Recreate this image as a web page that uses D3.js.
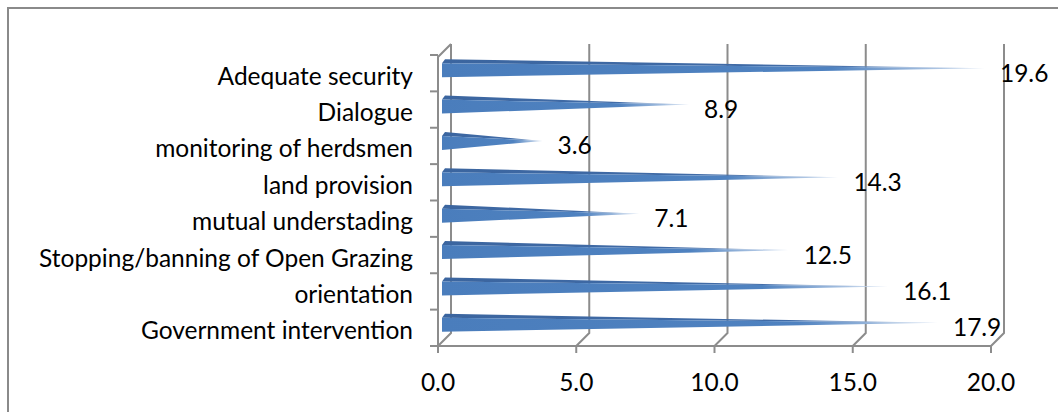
<!DOCTYPE html>
<html><head><meta charset="utf-8">
<script src="https://cdn.jsdelivr.net/npm/d3@7"></script>
<style>html,body{margin:0;padding:0;background:#fff;overflow:hidden}</style>
</head><body>
<svg id="c" width="1058" height="412"></svg>
<script>
const categories = ["Adequate security","Dialogue","monitoring of herdsmen","land provision","mutual understading","Stopping/banning of Open Grazing","orientation","Government intervention"];
const values = [19.6, 8.9, 3.6, 14.3, 7.1, 12.5, 16.1, 17.9];
const xTicks = [0, 5, 10, 15, 20];

const svg = d3.select("#c");
const FONT = "Lato, 'Open Sans', sans-serif";
const FS = 24.5;
const depth = 13;          // 3D depth offset of back wall
const dFront = 3, dBack = 7, halfH = 7;

const x = d3.scaleLinear().domain([0, 20]).range([438, 991]);
const y = d3.scaleBand().domain(categories).range([55, 346]).paddingInner(0);

// outer border
svg.append("rect").attr("x", 8).attr("y", 8).attr("width", 1070).attr("height", 420)
  .attr("fill", "none").attr("stroke", "#8a8a8a").attr("stroke-width", 2);

const grid = svg.append("g").attr("stroke", "#8c8c8c").attr("stroke-width", 2).attr("fill", "none");
// back wall gridlines + floor diagonals
xTicks.forEach(t => {
  grid.append("path").attr("d", `M${x(t)+depth},44 V${346-depth} L${x(t)},346`);
});
// floor front edge
grid.append("path").attr("d", `M${x(0)},346 H${x(20)}`);
// left wall front edge + top diagonal
grid.append("path").attr("d", `M${x(0)},346 V${44+depth} L${x(0)+depth},44`);
// x ticks
xTicks.forEach(t => grid.append("path").attr("d", `M${x(t)},346 V353`));
// y ticks
const bounds = categories.map(c => y(c)).concat([346]);
bounds.forEach(b => grid.append("path").attr("d", `M430,${b} H${x(0)}`));

// gradients
const defs = svg.append("defs");
const bars = svg.append("g");
categories.forEach((c, i) => {
  const v = values[i];
  const cy = y(c) + y.bandwidth() / 2;
  const x0 = x(0);
  const tipX = x(v) + (dFront + dBack) / 2;
  const tipY = cy - (dFront + dBack) / 2;
  const gid = "g" + i;
  const g = defs.append("linearGradient").attr("id", gid).attr("gradientUnits", "userSpaceOnUse")
    .attr("x1", x0).attr("x2", tipX).attr("y1", 0).attr("y2", 0);
  g.append("stop").attr("offset", 0).attr("stop-color", "#4a7dbc");
  g.append("stop").attr("offset", 0.72).attr("stop-color", "#4f82c0");
  g.append("stop").attr("offset", 1).attr("stop-color", "#d6e2f2");
  const gt = defs.append("linearGradient").attr("id", gid + "t").attr("gradientUnits", "userSpaceOnUse")
    .attr("x1", x0).attr("x2", tipX).attr("y1", 0).attr("y2", 0);
  gt.append("stop").attr("offset", 0).attr("stop-color", "#3b659f");
  gt.append("stop").attr("offset", 0.72).attr("stop-color", "#416ca8");
  gt.append("stop").attr("offset", 1).attr("stop-color", "#d6e2f2");
  // top face
  bars.append("path").attr("fill", `url(#${gid}t)`)
    .attr("d", `M${x0+dFront+1},${cy-halfH-dFront} L${x0+dBack},${cy-halfH-dBack} L${tipX},${tipY} Z`);
  // front face
  bars.append("path").attr("fill", `url(#${gid})`)
    .attr("d", `M${x0+dFront+1},${cy-halfH-dFront} L${x0+dFront+1},${cy+halfH-dFront} L${tipX},${tipY} Z`);
  // value label
  svg.append("text").attr("x", tipX + 15).attr("y", cy - 1)
    .attr("dominant-baseline", "central").attr("font-family", FONT).attr("font-size", FS)
    .attr("fill", "#000").text(v.toFixed(1));
});

// category labels
const lab = svg.append("g").attr("font-family", FONT).attr("font-size", FS).attr("fill", "#000");
categories.forEach(c => {
  lab.append("text").attr("x", 413).attr("y", y(c) + y.bandwidth() / 2 + 2)
    .attr("text-anchor", "end").attr("dominant-baseline", "central").text(c);
});
// x tick labels
xTicks.forEach(t => {
  svg.append("text").attr("x", x(t)).attr("y", 381).attr("text-anchor", "middle")
    .attr("dominant-baseline", "central").attr("font-family", FONT).attr("font-size", FS)
    .text(t.toFixed(1));
});
</script>
</body></html>
